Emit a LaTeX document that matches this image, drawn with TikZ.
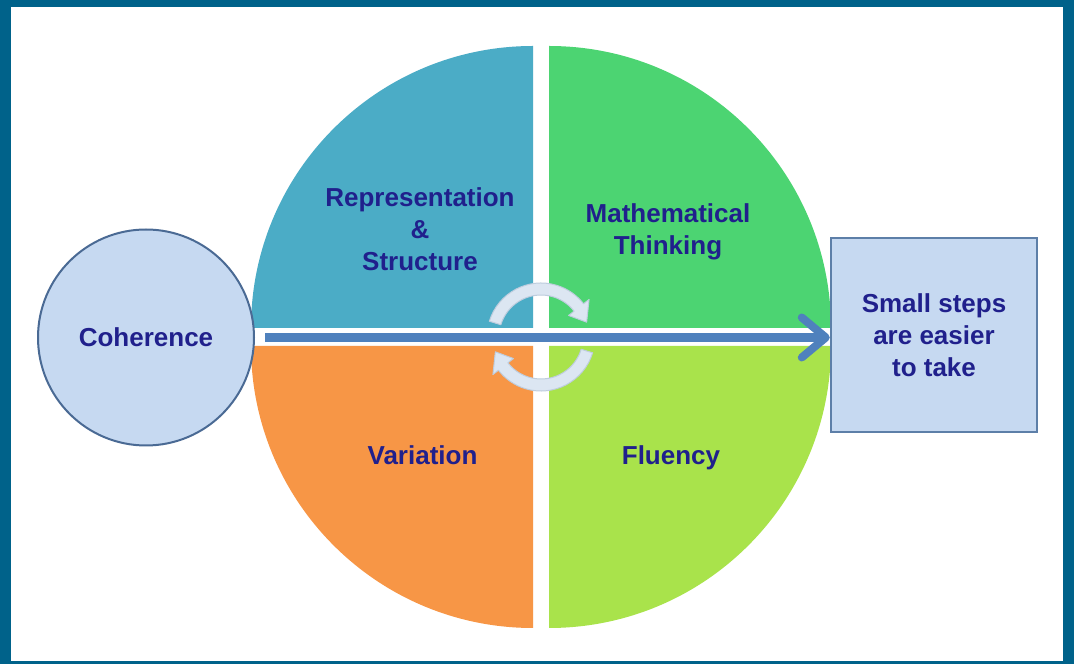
\documentclass[tikz,border=0pt]{standalone}
\usepackage{fontspec}
\setmainfont{Liberation Sans}
\usetikzlibrary{arrows.meta}
\definecolor{framec}{RGB}{0,98,138}
\definecolor{qtl}{RGB}{75,172,198}
\definecolor{qtr}{RGB}{76,212,114}
\definecolor{qbl}{RGB}{247,150,70}
\definecolor{qbr}{RGB}{169,227,75}
\definecolor{lightfill}{RGB}{198,217,241}
\definecolor{cohedge}{RGB}{74,106,148}
\definecolor{boxedge}{RGB}{93,127,168}
\definecolor{txtc}{RGB}{32,32,140}
\definecolor{arrowc}{RGB}{79,129,189}
\definecolor{cycfill}{RGB}{220,230,242}
\definecolor{cycedge}{RGB}{190,205,222}
\begin{document}
\begin{tikzpicture}[x=1pt,y=1pt,
  lbl/.style={font=\fontsize{26}{32}\selectfont\bfseries, text=txtc, align=center, inner sep=0pt},
  cyc/.style={fill=cycfill, draw=cycedge, line width=1pt, line join=round}]
\useasboundingbox (0,0) rectangle (1074,664);
% frame
\fill[framec] (0,0) rectangle (1074,664);
\fill[white] (11,3) rectangle (1063,657);
% quadrants
\fill[qtl] (533,336) -- ++(-282,0) arc[start angle=180,end angle=90,radius=282] -- cycle;
\fill[qtr] (549,336) -- ++(0,282) arc[start angle=90,end angle=0,radius=282] -- cycle;
\fill[qbl] (533,318) -- ++(-282,0) arc[start angle=180,end angle=270,radius=282] -- cycle;
\fill[qbr] (549,318) -- ++(282,0) arc[start angle=0,end angle=-90,radius=282] -- cycle;
% cycle arrows
\begin{scope}[shift={(541,327)}]
\filldraw[cyc] (163:54) arc[start angle=163,end angle=38,radius=54] -- (38:61) -- (18:48) -- (38:35) -- (38:42) arc[start angle=38,end angle=163,radius=42] -- cycle;
\filldraw[cyc] (-17:54) arc[start angle=-17,end angle=-142,radius=54] -- (218:61) -- (198:48) -- (218:35) -- (218:42) arc[start angle=-142,end angle=-17,radius=42] -- cycle;
\end{scope}
% labels
\node[lbl] (rep) at (420,435) {Representation\\\&\\Structure};
\node[lbl] (math) at (668,432) {Mathematical\\Thinking};
\node[lbl, anchor=base] (var) at (422.5,199) {Variation};
\node[lbl, anchor=base] (flu) at (671,199) {Fluency};
% side nodes
\node[lbl, circle, fill=lightfill, draw=cohedge, line width=2pt, minimum size=216pt] (coh) at (146,326.5) {Coherence};
\node[lbl, rectangle, fill=lightfill, draw=boxedge, line width=2.5pt, minimum width=206pt, minimum height=194pt] (box) at (934,329) {Small steps\\are easier\\to take};
% main arrow
\draw[arrowc, line width=9pt, -{Straight Barb[length=24pt,width=40pt,line width=8pt,round]}] ([xshift=10pt]coh.east) -- (coh.east -| box.west);
\end{tikzpicture}
\end{document}
